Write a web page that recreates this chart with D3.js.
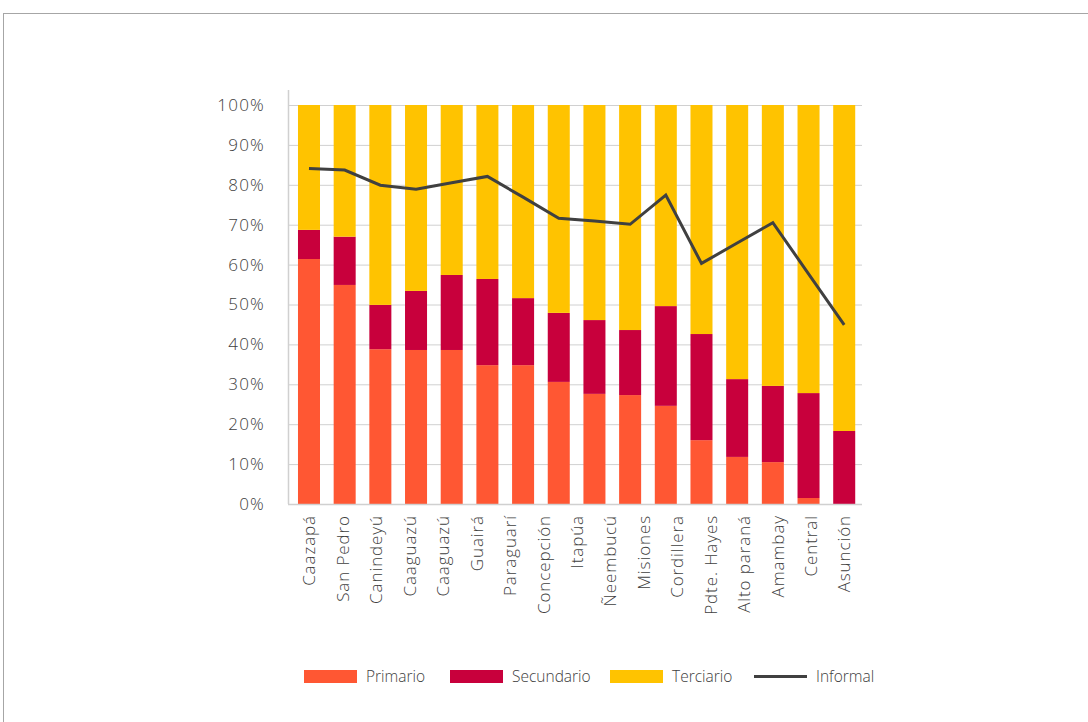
<!DOCTYPE html>
<html><head><meta charset="utf-8">
<script src="https://cdn.jsdelivr.net/npm/d3@7"></script>
<style>html,body{margin:0;padding:0;background:#fff}svg{display:block}</style>
</head><body>
<svg id="c" width="1088" height="722"></svg>
<script>
// Tick labels on the category axis (17, as shown in the chart)
const categories = ["Caazapá","San Pedro","Canindeyú","Caaguazú","Caaguazú","Guairá","Paraguarí","Concepción","Itapúa","Ñeembucú","Misiones","Cordillera","Pdte. Hayes","Alto paraná","Amambay","Central","Asunción"];
// Series values (16 plotted columns), in percent
const primario   = [61.4,54.9,38.8,38.6,38.6,34.8,34.8,30.6,27.6,27.3,24.6,16.0,11.8,10.5,1.5,0.0];
const secundario = [7.3,12.1,11.1,14.8,18.8,21.6,16.8,17.3,18.5,16.3,25.0,26.6,19.5,19.1,26.3,18.3];
const terciario  = primario.map((p,i)=>100-p-secundario[i]);
const informal   = [84.1,83.7,79.9,78.9,80.5,82.1,76.9,71.6,70.9,70.1,77.4,60.3,65.4,70.5,57.7,44.9];
const yTicks = [0,10,20,30,40,50,60,70,80,90,100];
const seriesNames = ["Primario","Secundario","Terciario","Informal"];
const colors = {Primario:"#FF5733",Secundario:"#C8003C",Terciario:"#FFC300",Informal:"#404040"};

(function(){
const svg = d3.select("#c");
const font = "'Open Sans', 'Noto Sans', sans-serif";
const txt = "#404040";

// frame
svg.append("rect").attr("x",3.5).attr("y",13.5).attr("width",1200).attr("height",800)
  .attr("fill","none").attr("stroke","#a6a6a6").attr("stroke-width",1);

const pL = 288, pR = 862, pT = 105, pB = 504;
const idx = d3.range(primario.length);
const x = d3.scaleBand().domain(idx).range([291.2, 862]).paddingInner(0.383).paddingOuter(0.19);
const xl = d3.scalePoint().domain(d3.range(categories.length)).range([309, 844]);
const y = d3.scaleLinear().domain([0,100]).range([pB, pT]);

// gridlines
svg.append("g").selectAll("line").data(yTicks.filter(t=>t>0)).join("line")
  .attr("x1",pL).attr("x2",pR).attr("y1",d=>y(d)+0.5).attr("y2",d=>y(d)+0.5)
  .attr("stroke","#d0d0d0").attr("stroke-width",1);

// y axis
const yAxis = d3.axisLeft(y).tickValues(yTicks).tickFormat(d=>d+"%").tickSize(0).tickPadding(23);
const ga = svg.append("g").attr("transform",`translate(${pL},0)`).call(yAxis);
ga.select(".domain").remove();
ga.selectAll("text").attr("font-family",font).attr("font-size",17).attr("font-weight",300)
  .attr("letter-spacing","1.2px").attr("fill",txt);
svg.append("line").attr("x1",pL+0.5).attr("x2",pL+0.5).attr("y1",90).attr("y2",pB)
  .attr("stroke","#d0d0d0").attr("stroke-width",1.5);

// stacked bars
const data = idx.map(i=>({i, Primario:primario[i], Secundario:secundario[i], Terciario:terciario[i]}));
const stack = d3.stack().keys(["Primario","Secundario","Terciario"])(data);
svg.append("g").selectAll("g").data(stack).join("g").attr("fill",d=>colors[d.key])
  .selectAll("rect").data(d=>d).join("rect")
  .attr("x",d=>x(d.data.i)).attr("width",x.bandwidth())
  .attr("y",d=>y(d[1])).attr("height",d=>y(d[0])-y(d[1]));

// bottom axis line
svg.append("line").attr("x1",pL).attr("x2",pR).attr("y1",pB+0.5).attr("y2",pB+0.5)
  .attr("stroke","#d0d0d0").attr("stroke-width",1.5);

// x labels
const xAxis = d3.axisBottom(xl).tickFormat(i=>categories[i]).tickSize(0).tickPadding(0);
const gx = svg.append("g").attr("transform",`translate(0,${pB})`).call(xAxis);
gx.select(".domain").remove();
gx.selectAll("text").attr("font-family",font).attr("font-size",17).attr("font-weight",300)
  .attr("letter-spacing","0.9px").attr("fill",txt)
  .attr("text-anchor","end").attr("dy","0.35em")
  .attr("transform","translate(0,11) rotate(-90)").attr("x",0).attr("y",0);

// informal line
const line = d3.line().x((d,i)=>x(i)+x.bandwidth()/2).y(d=>y(d));
svg.append("path").datum(informal).attr("d",line).attr("fill","none")
  .attr("stroke",colors.Informal).attr("stroke-width",3).attr("stroke-linejoin","miter");

// legend
const legX = [304, 450, 610, 754];
const lg = svg.append("g");
seriesNames.forEach((n,k)=>{
  if(n==="Informal"){
    lg.append("line").attr("x1",legX[k]).attr("x2",legX[k]+53).attr("y1",676.5).attr("y2",676.5)
      .attr("stroke",colors[n]).attr("stroke-width",3);
  } else {
    lg.append("rect").attr("x",legX[k]).attr("y",670).attr("width",53).attr("height",13).attr("fill",colors[n]);
  }
  lg.append("text").attr("x",legX[k]+62).attr("y",676.5).attr("dy","0.35em")
    .attr("font-family",font).attr("font-size",15.5).attr("font-weight",300).attr("fill",txt).text(n);
});
})();
</script>
</body></html>
